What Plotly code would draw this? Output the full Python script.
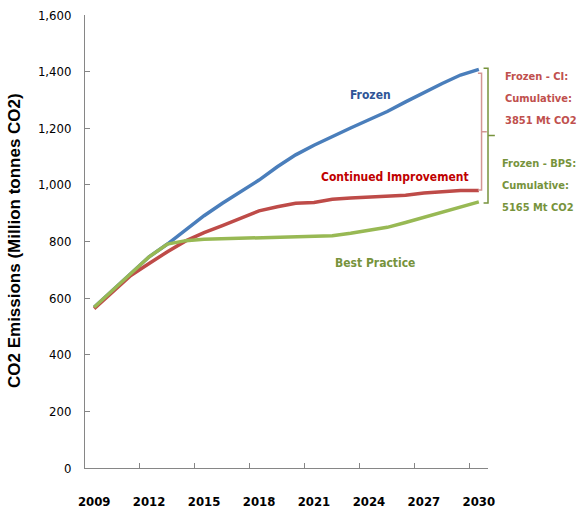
import plotly.graph_objects as go

years = list(range(2009, 2031))
frozen = [568, 628, 690, 746, 791, 842, 891, 935, 976, 1017, 1064, 1106, 1140, 1172,
          1201, 1230, 1259, 1293, 1326, 1358, 1388, 1408]
continued = [563, 622, 680, 722, 764, 802, 831, 856, 882, 908, 923, 935, 938, 949,
             954, 958, 960, 963, 971, 976, 980, 980]
best = [568, 628, 690, 746, 791, 803, 808, 810, 811, 813, 815, 817, 820, 820,
        829, 838, 850, 867, 885, 904, 923, 940]
ytick_vals = [0, 200, 400, 600, 800, 1000, 1200, 1400, 1600]
xtick_vals = [2009, 2012, 2015, 2018, 2021, 2024, 2027, 2030]

NARROW = "DejaVu Sans Condensed"
BLUE, RED, GREEN = "#4A7EBB", "#BE4B48", "#98B954"
AXIS = "#868686"

fig = go.Figure()
fig.add_trace(go.Scatter(x=years, y=frozen, mode="lines", name="Frozen",
                         line=dict(color=BLUE, width=3.5)))
fig.add_trace(go.Scatter(x=years, y=continued, mode="lines", name="Continued Improvement",
                         line=dict(color=RED, width=3.5)))
fig.add_trace(go.Scatter(x=years, y=best, mode="lines", name="Best Practice",
                         line=dict(color=GREEN, width=3.5)))

def bracket(xv, xh, xt, top, bot, color, width=1.5):
    mid = (top + bot) / 2
    path = f"M {xh},{top} L {xv},{top} L {xv},{bot} L {xh},{bot} M {xv},{mid} L {xt},{mid}"
    return dict(type="path", path=path, xref="paper", yref="y",
                line=dict(color=color, width=width))

fig.add_shape(**bracket(0.984, 0.975, 0.997, frozen[-1] - 14, continued[-1] + 2, "#D39593"))
fig.add_shape(**bracket(1.0, 0.989, 1.017, frozen[-1] + 4, best[-1] - 4, "#77933C"))

ann = [
    dict(x=2024.06, y=1317, text="<b>Frozen</b>", color="#2F5597"),
    dict(x=2025.4, y=1029, text="<b>Continued Improvement</b>", color="#C00000"),
    dict(x=2024.33, y=725, text="<b>Best Practice</b>", color="#77933C"),
]
for a in ann:
    fig.add_annotation(x=a["x"], y=a["y"], xref="x", yref="y", text=a["text"],
                       showarrow=False, font=dict(family=NARROW, size=12, color=a["color"]))

def px_to_paper(px, py):
    return (px - 85) / 403, (468 - py) / 453

right_lines = [
    ("Frozen - CI:", 503, 76, "#C0504D"),
    ("Cumulative:", 503, 99, "#C0504D"),
    ("3851 Mt CO2", 503, 121, "#C0504D"),
    ("Frozen - BPS:", 500, 163, "#77933C"),
    ("Cumulative:", 500, 185, "#77933C"),
    ("5165 Mt CO2", 500, 207, "#77933C"),
]
for t, px, py, c in right_lines:
    xp, yp = px_to_paper(px, py)
    fig.add_annotation(x=xp, y=yp, xref="paper", yref="paper", text=f"<b>{t}</b>",
                       showarrow=False, xanchor="left", yanchor="middle",
                       font=dict(family=NARROW, size=11, color=c))

xp, yp = px_to_paper(14, 241)
fig.add_annotation(x=xp, y=yp, xref="paper", yref="paper",
                   text="<b>CO2 Emissions (Million tonnes CO2)</b>", textangle=-90,
                   showarrow=False, xanchor="center", yanchor="middle",
                   font=dict(family="Liberation Sans, Arial, sans-serif", size=17, color="#000000"))

fig.update_layout(
    width=587, height=514,
    margin=dict(l=85, r=99, t=15, b=46, autoexpand=False),
    paper_bgcolor="white", plot_bgcolor="white",
    showlegend=False,
    xaxis=dict(range=[2008.5, 2030.5], tickmode="array", tickvals=xtick_vals,
               ticktext=[f"<b>{v}</b>" for v in xtick_vals], automargin=False,
               ticks="", showline=True, linecolor=AXIS, linewidth=1,
               showgrid=False, zeroline=False, ticklabelstandoff=21,
               tickfont=dict(family=NARROW, size=13, color="#000000"),
               minor=dict(tickmode="array", tickvals=[2011.5, 2014.5, 2017.5, 2020.5, 2023.5, 2026.5, 2029.5],
                          ticks="inside", ticklen=5, tickcolor=AXIS, showgrid=False)),
    yaxis=dict(range=[0, 1600], tickmode="array", tickvals=ytick_vals, tickformat=",",
               ticks="inside", ticklen=5, tickcolor=AXIS, automargin=False,
               showline=True, linecolor=AXIS, linewidth=1,
               showgrid=False, zeroline=False, ticklabelstandoff=10,
               tickfont=dict(family=NARROW, size=13, color="#000000")),
)

fig.write_html("out.html", config={"displayModeBar": False},
               post_script="document.body.style.margin='0';")
